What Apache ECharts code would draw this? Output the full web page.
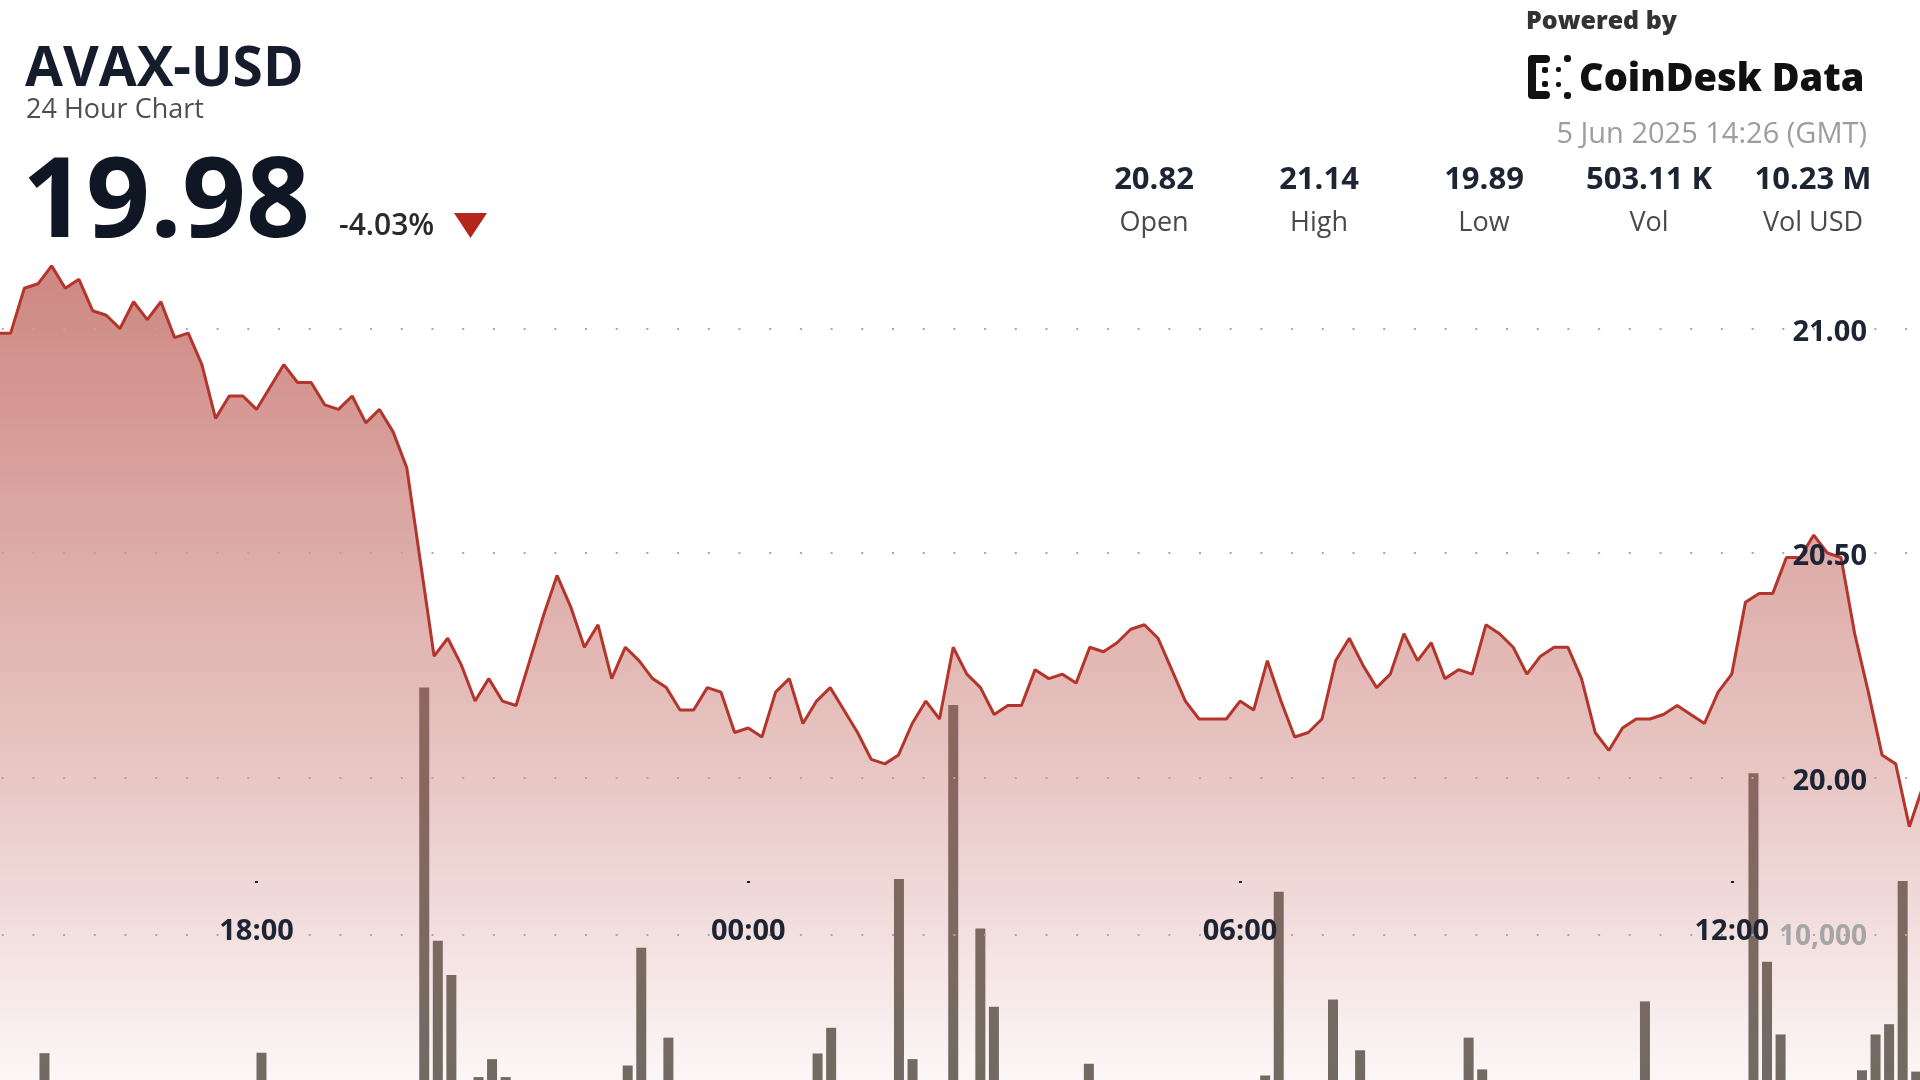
<!DOCTYPE html>
<html><head><meta charset="utf-8">
<script src="https://cdn.jsdelivr.net/npm/echarts@6/dist/echarts.min.js"></script>
<style>
html,body{margin:0;padding:0;background:#fff;width:1920px;height:1080px;overflow:hidden;position:relative;}
#c{position:absolute;left:-3px;top:-120px;width:1926px;height:1346px;}
</style>
</head><body><div id="c"></div>
<script>
const times = ["14:50",
"15:00","15:10","15:20","15:30","15:40","15:50",
"16:00","16:10","16:20","16:30","16:40","16:50",
"17:00","17:10","17:20","17:30","17:40","17:50",
"18:00","18:10","18:20","18:30","18:40","18:50",
"19:00","19:10","19:20","19:30","19:40","19:50",
"20:00","20:10","20:20","20:30","20:40","20:50",
"21:00","21:10","21:20","21:30","21:40","21:50",
"22:00","22:10","22:20","22:30","22:40","22:50",
"23:00","23:10","23:20","23:30","23:40","23:50",
"00:00","00:10","00:20","00:30","00:40","00:50",
"01:00","01:10","01:20","01:30","01:40","01:50",
"02:00","02:10","02:20","02:30","02:40","02:50",
"03:00","03:10","03:20","03:30","03:40","03:50",
"04:00","04:10","04:20","04:30","04:40","04:50",
"05:00","05:10","05:20","05:30","05:40","05:50",
"06:00","06:10","06:20","06:30","06:40","06:50",
"07:00","07:10","07:20","07:30","07:40","07:50",
"08:00","08:10","08:20","08:30","08:40","08:50",
"09:00","09:10","09:20","09:30","09:40","09:50",
"10:00","10:10","10:20","10:30","10:40","10:50",
"11:00","11:10","11:20","11:30","11:40","11:50",
"12:00","12:10","12:20","12:30","12:40","12:50",
"13:00","13:10","13:20","13:30","13:40","13:50",
"14:00","14:10","14:20"];

const prices = [
20.99,20.99,21.09,21.10,21.14,21.09,21.11,21.04,21.03,21.00,
21.06,21.02,21.06,20.98,20.99,20.92,20.80,20.85,20.85,20.82,
20.87,20.92,20.88,20.88,20.83,20.82,20.85,20.79,20.82,20.77,
20.69,20.48,20.27,20.31,20.25,20.17,20.22,20.17,20.16,20.26,
20.36,20.45,20.38,20.29,20.34,20.22,20.29,20.26,20.22,20.20,
20.15,20.15,20.20,20.19,20.10,20.11,20.09,20.19,20.22,20.12,
20.17,20.20,20.15,20.10,20.04,20.03,20.05,20.12,20.17,20.13,
20.29,20.23,20.20,20.14,20.16,20.16,20.24,20.22,20.23,20.21,
20.29,20.28,20.30,20.33,20.34,20.31,20.24,20.17,20.13,20.13,
20.13,20.17,20.15,20.26,20.17,20.09,20.10,20.13,20.26,20.31,
20.25,20.20,20.23,20.32,20.26,20.30,20.22,20.24,20.23,20.34,
20.32,20.29,20.23,20.27,20.29,20.29,20.22,20.10,20.06,20.11,
20.13,20.13,20.14,20.16,20.14,20.12,20.19,20.23,20.39,20.41,
20.41,20.49,20.49,20.54,20.50,20.49,20.32,20.19,20.05,20.03,
19.89,19.98];

const volumes = [
0,0,0,1850,0,0,0,0,0,0,
0,0,0,0,0,0,0,0,0,1880,
0,0,0,0,0,0,0,0,0,0,
0,27070,9610,7250,0,200,1440,200,0,0,
0,0,0,0,0,0,1000,9120,0,2920,
0,0,0,0,0,0,0,0,0,0,
1830,3600,0,0,0,0,13870,1440,0,0,
25870,0,10450,5050,0,0,0,0,0,0,
1120,0,0,0,0,0,0,0,0,0,
0,0,0,310,12990,0,0,0,5550,0,
2050,0,0,0,0,0,0,0,2920,730,
0,0,0,0,0,0,0,0,0,0,
0,5420,0,0,0,0,0,0,0,21160,
8160,3140,0,0,0,0,0,670,3140,3850,
13730,580];

const priceTicks = [20, 20.5, 21];
const timeTicks = ["18:00","00:00","06:00","12:00"];
const volumeTicks = [10000];

const header = {
  symbol: "AVAX-USD", sub: "24 Hour Chart", price: "19.98", change: "-4.03%",
  stamp: "5 Jun 2025 14:26 (GMT)",
  statValues: ["20.82","21.14","19.89","503.11 K","10.23 M"],
  statLabels: ["Open","High","Low","Vol","Vol USD"]
};

const FF = '"Open Sans", "Noto Sans", sans-serif';
const OX = 3, OY = 120; // chart canvas offset relative to page
const chart = echarts.init(document.getElementById('c'), null, {renderer:'canvas'});

const P = (x, y) => [x + OX, y + OY];
const statX = [1154, 1319, 1484, 1649, 1813];
const txt = (x, y, text, font, fill, align) => ({type:'text', x:x+OX, y:y+OY,
  style:{text:text, font:font, fill:fill, align:align||'left', verticalAlign:'middle'}});
const rr = (x, y, w, h, r) => ({type:'rect', shape:{x:x+OX, y:y+OY, width:w, height:h, r:r}, style:{fill:'#111'}});

const graphics = [
  txt(25, 70, header.symbol, '700 55px '+FF, '#151c2b'),
  txt(26, 110, header.sub, '400 27px '+FF, '#4e4e4e'),
  txt(22, 205, header.price, '700 112px '+FF, '#101724'),
  txt(339, 226, header.change, '600 30px '+FF, '#2a2a2a'),
  {type:'polygon', shape:{points:[P(454,213),P(487,213),P(470.5,238)]}, style:{fill:'#b3261c'}},
  txt(1526, 22, 'Powered by', '800 25px '+FF, '#333'),
  {type:'group', children:[
    rr(1528, 57, 8, 40, 3), rr(1528, 55, 22, 8, 4), rr(1528, 91, 22, 8, 4),
    rr(1542, 67, 6, 6, 2), rr(1542, 81, 6, 6, 2),
    rr(1556, 67, 5, 5, 2), rr(1556, 82, 5, 5, 2),
    rr(1564, 55, 7, 7, 3), rr(1564, 92, 7, 7, 3)
  ]},
  txt(1579, 80, 'CoinDesk Data', '800 38px '+FF, '#111'),
  txt(1867, 135, header.stamp, '400 29px '+FF, '#9d9d9d', 'right')
];
header.statValues.forEach((v,i)=>{
  graphics.push(txt(statX[i], 180, v, '700 31px '+FF, '#1d2433', 'center'));
  graphics.push(txt(statX[i], 223, header.statLabels[i], '400 27px '+FF, '#4a4a4a', 'center'));
});

const T = 'rgba(0,0,0,0)', G = '#a9a9a9';
const dotted = {type:[2, 28.7], dashOffset:26, width:2};

const option = {
  animation:false,
  backgroundColor:'#ffffff',
  grid:[
    {left:0, right:0, top:0, bottom:0},
    {left:0, right:0, top:765, bottom:146},
    {left:0, right:0, top:0, height:1001}
  ],
  xAxis:[
    {gridIndex:0, type:'category', data:times, boundaryGap:false, show:false},
    {gridIndex:1, type:'category', data:times, boundaryGap:true, show:false},
    {gridIndex:2, type:'category', data:times, boundaryGap:false, position:'bottom',
     axisLine:{show:false},
     axisTick:{show:true, length:2, interval:(i,v)=>timeTicks.includes(v), lineStyle:{color:'#222', width:3}},
     axisLabel:{interval:(i,v)=>timeTicks.includes(v), margin:36, fontFamily:FF, fontWeight:700, fontSize:29, color:'#1d2433'},
     splitLine:{show:false}, z:10}
  ],
  yAxis:[
    {gridIndex:0, type:'value', min:19, max:22, interval:0.5, position:'right',
     axisLine:{show:false}, axisTick:{show:false},
     axisLabel:{inside:true, margin:56, fontFamily:FF, fontWeight:700, fontSize:29, color:'#1d2433',
       formatter:v=>priceTicks.some(t=>Math.abs(t-v)<1e-6)?'{p|'+v.toFixed(2)+'}':'',
       rich:{p:{fontFamily:FF, fontWeight:700, fontSize:29, color:'#1d2433', padding:[8,0,0,0]}}},
     splitLine:{show:true, lineStyle:Object.assign({}, dotted, {color:[T,T,G,G,G,T,T]})},
     z:10},
    {gridIndex:1, type:'value', min:0, max:30000, interval:10000, position:'right',
     axisLine:{show:false}, axisTick:{show:false},
     axisLabel:{inside:true, margin:56, fontFamily:FF, fontWeight:700, fontSize:28, color:'#a5a5a5',
       formatter:v=>volumeTicks.includes(v)?'{v|'+v.toLocaleString('en-US')+'}':'',
       rich:{v:{fontFamily:FF, fontWeight:700, fontSize:28, color:'#a5a5a5', padding:[5,0,0,0]}}},
     splitLine:{show:true, lineStyle:Object.assign({}, dotted, {color:[T,G,T,T]})},
     z:10},
    {gridIndex:2, type:'value', show:false}
  ],
  series:[
    {type:'bar', xAxisIndex:1, yAxisIndex:1, data:volumes, barWidth:10,
     itemStyle:{color:'#6c6b64'}, z:1, silent:true},
    {type:'line', xAxisIndex:0, yAxisIndex:0, data:prices, symbol:'none', smooth:false,
     lineStyle:{color:'#b3352b', width:3},
     areaStyle:{opacity:1, color:new echarts.graphic.LinearGradient(0, 267+OY, 0, 1080+OY, [
       {offset:0, color:'rgba(190,95,88,0.75)'},
       {offset:0.627, color:'rgba(190,95,88,0.35)'},
       {offset:1, color:'rgba(190,95,88,0.05)'}
     ], true)},
     z:2, silent:true}
  ],
  graphic:graphics
};
chart.setOption(option);
</script>
</body></html>
